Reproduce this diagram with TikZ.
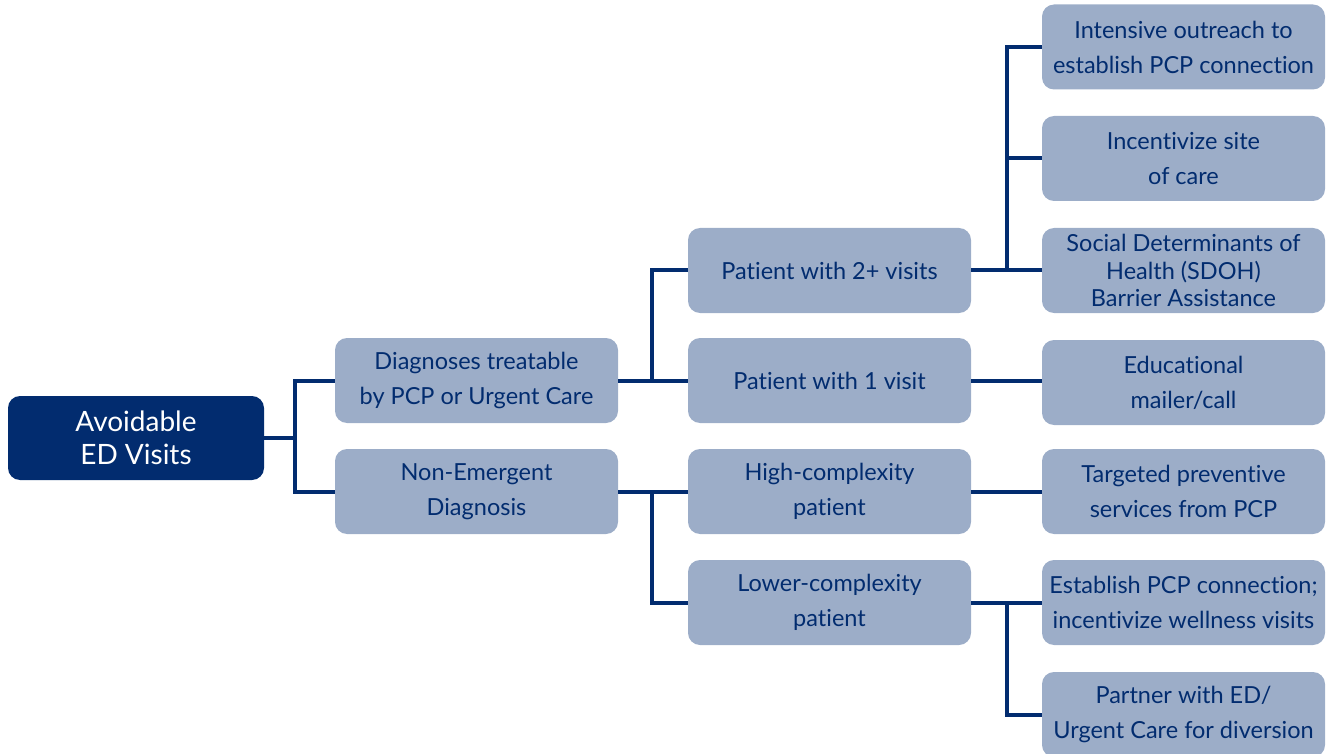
\documentclass[tikz,border=0pt]{standalone}
\usepackage{fontspec}
\setmainfont{Lato}[Ligatures=NoCommon]
\definecolor{navy}{HTML}{022C6F}
\definecolor{lightbox}{HTML}{9CADC8}
\begin{document}
\begin{tikzpicture}[x=1pt,y=-1pt,
  box/.style={rounded corners=12pt, fill=lightbox, text=navy, minimum width=283pt, minimum height=85pt,
    align=center, inner sep=0pt, font=\fontsize{23.5}{35}\selectfont},
  tightbox/.style={box, font=\fontsize{23.5}{27.5}\selectfont},
  rootbox/.style={rounded corners=12pt, fill=navy, text=white, minimum width=256pt, minimum height=84pt,
    align=center, inner sep=0pt, font=\fontsize{28}{33}\selectfont},
  conn/.style={draw=navy, line width=4pt}]
\useasboundingbox (0,0) rectangle (1331,754);
\begin{scope}
\clip (0,0) rectangle (1331,754);
\node[rootbox] (root) at (136,438) {Avoidable\\ED Visits};
\node[box] (a) at (476.5,380.5) {Diagnoses treatable\\by PCP or Urgent Care};
\node[box] (b) at (476.5,491.5) {Non-Emergent\\Diagnosis};
\node[box] (p2) at (829.5,270.5) {Patient with 2+ visits};
\node[box] (p1) at (829.5,380.5) {Patient with 1 visit};
\node[box] (hc) at (829.5,491.5) {High-complexity\\patient};
\node[box] (lc) at (829.5,602.5) {Lower-complexity\\patient};
\node[box] (t1) at (1183.5,47) {Intensive outreach to\\establish PCP connection};
\node[box] (t2) at (1183.5,158.5) {Incentivize site\\of care};
\node[tightbox] (t3) at (1183.5,270.5) {Social Determinants of\\Health (SDOH)\\Barrier Assistance};
\node[box] (t4) at (1183.5,382.5) {Educational\\mailer/call};
\node[box] (t5) at (1183.5,491.5) {Targeted preventive\\services from PCP};
\node[box] (t6) at (1183.5,602.5) {Establish PCP connection;\\incentivize wellness visits};
\node[box] (t7) at (1183.5,714.5) {Partner with ED/\\Urgent Care for diversion};
\end{scope}
\draw[conn] (root.east) -- ++(31,0) |- (a.west);
\draw[conn] (root.east) -- ++(31,0) |- (b.west);
\draw[conn] (a.east) -- ++(34,0) |- (p2.west);
\draw[conn] (a.east) -- (p1.west);
\draw[conn] (b.east) -- (hc.west);
\draw[conn] (b.east) -- ++(34,0) |- (lc.west);
\draw[conn] (p2.east) -- ++(36,0) |- (t1.west);
\draw[conn] (p2.east) -- ++(36,0) |- (t2.west);
\draw[conn] (p2.east) -- (t3.west);
\draw[conn] (p1.east) -- (p1.east -| t4.west);
\draw[conn] (hc.east) -- (t5.west);
\draw[conn] (lc.east) -- (t6.west);
\draw[conn] (lc.east) -- ++(36,0) |- (t7.west);
\end{tikzpicture}
\end{document}
